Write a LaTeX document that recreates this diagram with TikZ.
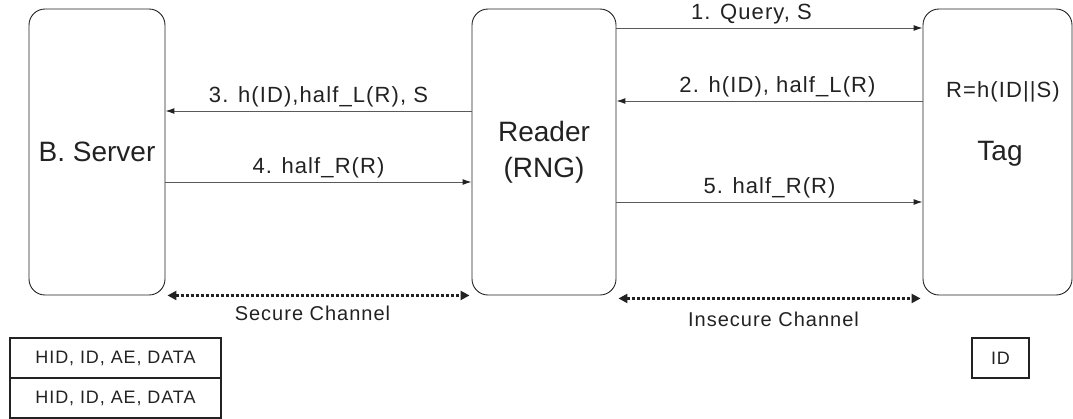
\documentclass[tikz,border=0pt]{standalone}
\usepackage{fontspec}
\setmainfont{Liberation Sans}[LetterSpace=5]
\newfontfamily\bigfont{Liberation Sans}
\usetikzlibrary{arrows.meta}

\definecolor{linegray}{HTML}{5A5A5A}
\definecolor{textgray}{HTML}{222222}

\tikzset{
  entity/.style={draw=textgray, line width=0.9pt, rounded corners=16pt,
    minimum height=286pt, text=textgray, font=\bigfont\fontsize{28}{36}\selectfont, align=center},
  msg/.style={draw=linegray, line width=1pt,
    -{Latex[length=9pt,width=6pt,color=textgray]}},
  msglabel/.style={above, inner sep=3pt, text=textgray, font=\fontsize{22}{24}\selectfont},
  channel/.style={draw=textgray, line width=3pt, dash pattern=on 3.5pt off 1.5pt,
    {Triangle[length=9pt,width=9pt]}-{Triangle[length=9pt,width=9pt]}},
  chlabel/.style={below, text=textgray, font=\fontsize{20}{22}\selectfont},
  storebox/.style={draw=textgray, line width=1.1pt, minimum height=40pt,
    text=textgray, font=\fontsize{18}{20}\selectfont}
}

\begin{document}
\begin{tikzpicture}[x=1pt, y=-1pt]
    \useasboundingbox (0,0) rectangle (1073,418);

    % 1. The three parties
    \node[entity, minimum width=136pt] (server) at (97,152) {B. Server};
    \node[entity, minimum width=144pt] (reader) at (544,152) {Reader\\(RNG)};
    \node[entity, minimum width=149pt] (tag) at (997.5,152) {};
    \node[text=textgray, font=\bigfont\fontsize{28}{30}\selectfont] (tagname) at (1000,154) {Tag};
    \node[text=textgray, font=\fontsize{22}{24}\selectfont] (tagrule) at (1003,92) {R=h(ID||S)};

    % 2. Messages between reader and tag
    \draw[msg] (reader.east |- 0,28) -- (tag.west |- 0,28)
        node[msglabel, midway, xshift=-18pt] {1. Query, S};
    \draw[msg] (tag.west |- 0,101) -- (reader.east |- 0,101)
        node[msglabel, midway, xshift=8pt] {2. h(ID), half\_L(R)};
    \draw[msg] (reader.east |- 0,202) -- (tag.west |- 0,202)
        node[msglabel, midway] {5. half\_R(R)};

    % 3. Messages between reader and server
    \draw[msg] (reader.west |- 0,111) -- (server.east |- 0,111)
        node[msglabel, midway] {3. h(ID),half\_L(R), S};
    \draw[msg] (server.east |- 0,182) -- (reader.west |- 0,182)
        node[msglabel, midway] {4. half\_R(R)};

    % 4. Channels
    \draw[channel] ([xshift=2pt]server.south east) -- ([xshift=-2pt]reader.south west)
        node[chlabel, midway, inner sep=9pt, xshift=-6pt] {Secure Channel};
    \draw[channel] ([xshift=2pt, yshift=-3pt]reader.south east) -- ([xshift=-2pt, yshift=-3pt]tag.south west)
        node[chlabel, midway, inner sep=12pt, xshift=4pt] {Insecure Channel};

    % 5. Stored data
    \node[storebox, minimum width=211pt] (srvrow1) at (115.5,358) {HID, ID, AE, DATA};
    \node[storebox, minimum width=211pt] (srvrow2) at (115.5,398) {HID, ID, AE, DATA};
    \node[storebox, minimum width=57pt] (tagid) at (1000.5,358) {ID};

\end{tikzpicture}
\end{document}
